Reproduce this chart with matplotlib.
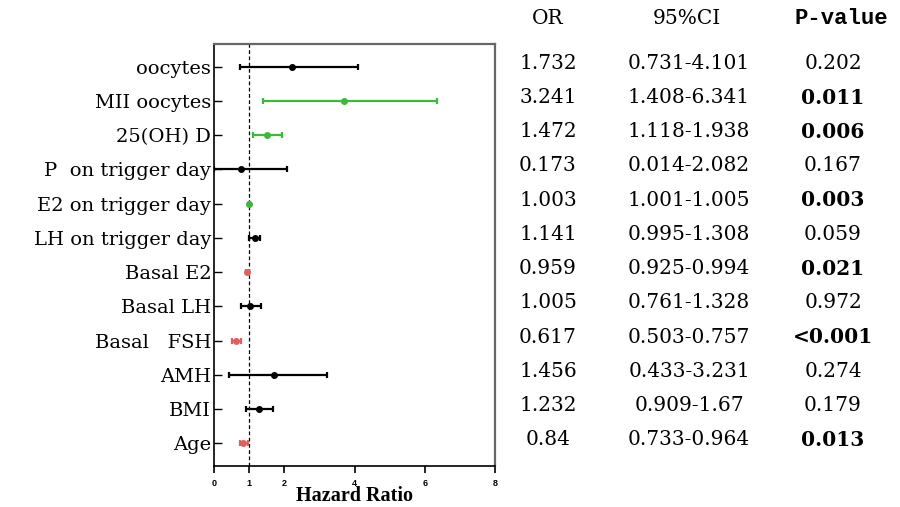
import matplotlib
matplotlib.use("Agg")
import matplotlib.pyplot as plt
from matplotlib.transforms import blended_transform_factory
import numpy as np

# ---------------- data ----------------
variables = ["oocytes", "MII oocytes", "25(OH) D", "P  on trigger day",
             "E2 on trigger day", "LH on trigger day", "Basal E2", "Basal LH",
             "Basal   FSH", "AMH", "BMI", "Age"]
or_text = ["1.732", "3.241", "1.472", "0.173", "1.003", "1.141",
           "0.959", "1.005", "0.617", "1.456", "1.232", "0.84"]
ci_text = ["0.731-4.101", "1.408-6.341", "1.118-1.938", "0.014-2.082",
           "1.001-1.005", "0.995-1.308", "0.925-0.994", "0.761-1.328",
           "0.503-0.757", "0.433-3.231", "0.909-1.67", "0.733-0.964"]
p_text = ["0.202", "0.011", "0.006", "0.167", "0.003", "0.059",
          "0.021", "0.972", "<0.001", "0.274", "0.179", "0.013"]
# point estimates as drawn in the forest plot
hr_plot = [2.22, 3.69, 1.50, 0.76, 1.003, 1.17, 0.95, 1.02, 0.62, 1.70, 1.27, 0.83]
ci_low = [0.731, 1.408, 1.118, 0.014, 1.001, 0.995, 0.925, 0.761, 0.503, 0.433, 0.909, 0.733]
ci_high = [4.101, 6.341, 1.938, 2.082, 1.005, 1.308, 0.994, 1.328, 0.757, 3.231, 1.67, 0.964]
groups = ["ns", "up", "up", "ns", "up", "ns", "down", "ns", "down", "ns", "ns", "down"]
x_ticks = [0, 1, 2, 4, 6, 8]

palette = {"ns": "#000000", "up": "#3cb83c", "down": "#e06060"}

# ---------------- figure ----------------
fig = plt.figure(figsize=(9, 5.07), dpi=100)
ax = fig.add_axes([214 / 900, 1 - 466 / 507, (495 - 214) / 900, (466 - 44) / 507])

n = len(variables)
ypos = np.arange(n)[::-1]

for i in range(n):
    c = palette[groups[i]]
    lo = hr_plot[i] - ci_low[i]
    hi = ci_high[i] - hr_plot[i]
    ax.errorbar(hr_plot[i], ypos[i], xerr=[[max(lo, 0)], [max(hi, 0)]],
                fmt="o", color=c, ecolor=c, markersize=4, elinewidth=1.6,
                capsize=2.0, capthick=1.6, zorder=3)

ax.axvline(1, color="black", linestyle=(0, (3, 2)), linewidth=0.9, zorder=1)

ax.set_xlim(0, 8)
ax.set_ylim(-0.663, n - 1 + 0.663)
ax.set_xticks(x_ticks)
ax.set_xticklabels([str(t) for t in x_ticks], fontsize=6.5, fontweight="bold",
                   family="Liberation Sans")
ax.set_yticks(ypos)
ax.set_yticklabels(variables, fontsize=14, family="DejaVu Serif")
ax.tick_params(axis="y", direction="in", length=6, width=1.0, pad=2)
ax.tick_params(axis="x", direction="out", length=5, width=1.2, pad=4)

for s in ["left", "bottom"]:
    ax.spines[s].set_color("black")
    ax.spines[s].set_linewidth(1.2)
for s in ["top", "right"]:
    ax.spines[s].set_color("#666666")
    ax.spines[s].set_linewidth(1.6)

fig.text(354.5 / 900, 1 / 507, "Hazard Ratio", ha="center", va="bottom",
         fontsize=14.5, fontweight="bold", family="Liberation Serif")

# ---------------- table ----------------
tr = blended_transform_factory(fig.transFigure, ax.transData)
col_or, col_ci, col_p = 548 / 900, 689 / 900, 833 / 900
head_y = 12.42
fig.text(col_or, head_y, "OR", transform=tr, ha="center", va="center",
         fontsize=14.5, family="DejaVu Serif")
fig.text(col_ci - 2 / 900, head_y, "95%CI", transform=tr, ha="center", va="center",
         fontsize=14.5, family="DejaVu Serif")
fig.text(841 / 900, head_y, "P-value", transform=tr, ha="center", va="center",
         fontsize=16, fontweight="bold", family="Liberation Mono")

for i in range(n):
    y = ypos[i] + 0.1
    fig.text(col_or, y, or_text[i], transform=tr, ha="center", va="center",
             fontsize=14.5, family="DejaVu Serif")
    fig.text(col_ci, y, ci_text[i], transform=tr, ha="center", va="center",
             fontsize=14.5, family="DejaVu Serif")
    p = p_text[i]
    sig = p.startswith("<") or float(p) < 0.05
    fig.text(col_p, y, p, transform=tr, ha="center", va="center",
             fontsize=14.5, family="DejaVu Serif",
             fontweight="bold" if sig else "normal")

fig.savefig("out.png", dpi=100)
